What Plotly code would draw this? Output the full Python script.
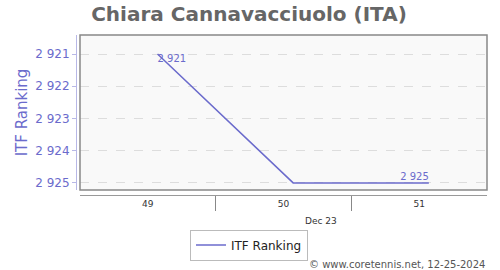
import plotly.graph_objects as go

# Data
dates = ["2023-12-04", "2023-12-11", "2023-12-18"]
ranking = [2921, 2925, 2925]
point_labels = ["2 921", "", "2 925"]
label_pos = ["bottom right", "top center", "top left"]

week_tick_vals = ["2023-12-03 12:00", "2023-12-10 12:00", "2023-12-17 12:00"]
week_tick_text = ["49", "50", "51"]
week_sep_vals = ["2023-12-07", "2023-12-14"]
y_ticks = [2921, 2922, 2923, 2924, 2925]
y_tick_text = ["2 921", "2 922", "2 923", "2 924", "2 925"]

W, H = 500, 270
FONT = "DejaVu Sans"
PURPLE = "#6b6bcc"

fig = go.Figure()
fig.add_trace(go.Scatter(
    x=dates, y=ranking, mode="lines+text", name="ITF Ranking",
    line=dict(color=PURPLE, width=1.5),
    text=point_labels, textposition=label_pos,
    textfont=dict(family=FONT, size=10, color=PURPLE),
    cliponaxis=False,
))

x0, x1 = 80 / W, 487 / W
y0, y1 = 1 - 190 / H, 1 - 35 / H

fig.update_layout(
    width=W, height=H,
    margin=dict(l=0, r=0, t=0, b=0),
    paper_bgcolor="white",
    plot_bgcolor="#f9f9f9",
    font=dict(family=FONT),
    title=dict(text="<b>Chiara Cannavacciuolo (ITA)</b>", x=0.498, xanchor="center",
               y=1 - 14 / H, yanchor="middle",
               font=dict(family=FONT, size=20, color="#666666")),
    xaxis=dict(
        type="date", domain=[x0, x1],
        range=["2023-11-30", "2023-12-21"],
        anchor="free", position=1 - 195 / H,
        showline=True, linecolor="#999999", linewidth=1,
        showgrid=False, zeroline=False,
        tickmode="array", tickvals=week_tick_vals, ticktext=week_tick_text,
        ticks="", tickfont=dict(family=FONT, size=9, color="#333333"),
        minor=dict(tickmode="array", tickvals=week_sep_vals, ticks="outside",
                   ticklen=15, tickcolor="#888888", tickwidth=1, showgrid=False),
    ),
    yaxis=dict(
        domain=[y0, y1], autorange=False,
        range=[2925.22, 2920.41],
        anchor="free", position=76 / W,
        showline=True, linecolor="#b8b8e6", linewidth=1,
        showgrid=True, gridcolor="#dddddd", griddash="dash", gridwidth=1,
        zeroline=False,
        tickmode="array", tickvals=y_ticks, ticktext=y_tick_text,
        ticks="outside", ticklen=4, tickcolor="#b8b8e6",
        tickfont=dict(family=FONT, size=12, color=PURPLE),
        title=dict(text="ITF Ranking", standoff=2,
                   font=dict(family=FONT, size=15, color=PURPLE)),
    ),
    showlegend=True,
    legend=dict(x=249 / W, y=1 - 245 / H, xanchor="center", yanchor="middle",
                orientation="h", bordercolor="#bbbbbb", borderwidth=1,
                bgcolor="white", font=dict(family=FONT, size=12, color="#222222"),
                itemwidth=30),
    shapes=[dict(type="rect", xref="paper", yref="paper", x0=x0, x1=x1, y0=y0, y1=y1,
                 line=dict(color="#888888", width=1.5), fillcolor="rgba(0,0,0,0)",
                 layer="above")],
    annotations=[
        dict(text="Dec 23", x="2023-12-12 11:00", xref="x", y=1 - 221 / H, yref="paper",
             yanchor="middle", showarrow=False,
             font=dict(family=FONT, size=9, color="#333333")),
        dict(text="© www.coretennis.net, 12-25-2024", x=487 / W, xref="paper", xanchor="right",
             y=1 - 264 / H, yref="paper", yanchor="middle", showarrow=False,
             font=dict(family=FONT, size=10, color="#555555")),
    ],
)

fig.write_html("out.html")
